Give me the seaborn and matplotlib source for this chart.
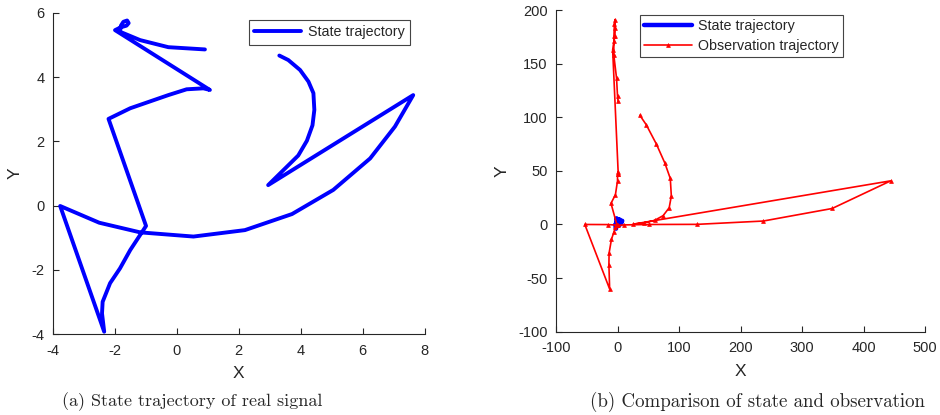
import matplotlib
matplotlib.use("Agg")
import matplotlib.pyplot as plt
import seaborn as sns
import pandas as pd

# State trajectory (x, y), in sample order
state_x = [0.91, -0.27, -1.18, -1.83, -1.80, -1.72, -1.60, -1.55, -1.62,
           -1.80, -1.99,
           1.07, 0.86, 0.32, -0.27, -1.50, -2.20,
           -0.99, -1.18, -1.50, -1.83, -2.15, -2.39, -2.41, -2.34,
           -3.76, -2.50, -1.18, 0.54, 2.20, 3.72, 5.05, 6.24, 7.04, 7.63,
           2.95, 3.52, 3.92, 4.20, 4.38, 4.44, 4.41, 4.25, 3.98, 3.60, 3.31]
state_y = [4.86, 4.93, 5.15, 5.41, 5.60, 5.72, 5.76, 5.68, 5.60,
           5.55, 5.46,
           3.60, 3.65, 3.62, 3.44, 3.03, 2.70,
           -0.63, -0.91, -1.38, -1.95, -2.41, -2.99, -3.35, -3.92,
           -0.01, -0.53, -0.83, -0.96, -0.76, -0.26, 0.49, 1.47, 2.46, 3.44,
           0.64, 1.18, 1.56, 2.02, 2.50, 2.98, 3.50, 3.86, 4.22, 4.53, 4.67]

# Observation trajectory (x, y), same samples
obs_x = [0.9, 0.0, -1.6, -6.1, -5.8, -5.1, -4.1, -3.7, -4.3,
         -5.8, -7.9,
         1.2, 0.6, 0.0, 0.0, -3.4, -10.6,
         -1.0, -1.6, -3.4, -6.1, -9.9, -13.7, -14.0, -12.8,
         -53.2, -15.6, -1.6, 0.2, 10.6, 51.5, 128.8, 236.9, 348.9, 444.2,
         25.7, 43.6, 60.2, 74.1, 84.0, 87.5, 85.8, 76.8, 63.0, 46.7, 36.3]
obs_y = [114.8, 119.8, 136.6, 158.3, 175.6, 187.2, 191.1, 183.2, 175.6,
         171.0, 162.8,
         46.7, 48.6, 47.4, 40.7, 27.8, 19.7,
         -0.3, -0.8, -2.6, -7.4, -14.0, -26.7, -37.6, -60.2,
         0.0, -0.1, -0.6, -0.9, -0.4, 0.0, 0.1, 3.2, 14.9, 40.7,
         0.3, 1.6, 3.8, 8.2, 15.6, 26.5, 42.9, 57.5, 75.2, 93.0, 101.8]

left_xticks = [-4, -2, 0, 2, 4, 6, 8]
left_yticks = [-4, -2, 0, 2, 4, 6]
right_xticks = [-100, 0, 100, 200, 300, 400, 500]
right_yticks = [-100, -50, 0, 50, 100, 150, 200]

captions = ["(a) State trajectory of real signal",
            "(b) Comparison of state and observation"]

sns.set_style("ticks")
plt.rcParams["font.family"] = ["Liberation Sans", "DejaVu Sans"]
plt.rcParams["axes.unicode_minus"] = False

state = pd.DataFrame({"x": state_x, "y": state_y})
obs = pd.DataFrame({"x": obs_x, "y": obs_y})

fig = plt.figure(figsize=(9.4, 4.15), dpi=100)
ax1 = fig.add_axes([0.0561, 0.1945, 0.3957, 0.7747])
ax2 = fig.add_axes([0.5915, 0.2007, 0.3926, 0.7752])

axis_grey = "#262626"

# Left panel: the state trajectory alone
sns.lineplot(data=state, x="x", y="y", sort=False, estimator=None,
             color="#0000ff", lw=2.8, ax=ax1, label="State trajectory")
ax1.set_xlim(-4, 8)
ax1.set_ylim(-4, 6)
ax1.set_xticks(left_xticks)
ax1.set_yticks(left_yticks)

# Right panel: state vs observation
sns.lineplot(data=state, x="x", y="y", sort=False, estimator=None,
             color="#0000ff", lw=3.2, ax=ax2, label="State trajectory")
sns.lineplot(data=obs, x="x", y="y", sort=False, estimator=None,
             color="#ff0000", lw=1.2, marker="^", markersize=2.8,
             markeredgecolor="#ff0000", markerfacecolor="#ff0000",
             markeredgewidth=0.5, ax=ax2, label="Observation trajectory")
ax2.set_xlim(-100, 500)
ax2.set_ylim(-100, 200)
ax2.set_xticks(right_xticks)
ax2.set_yticks(right_yticks)

for ax in (ax1, ax2):
    for side in ("top", "right"):
        ax.spines[side].set_visible(False)
    for side in ("left", "bottom"):
        ax.spines[side].set_color(axis_grey)
        ax.spines[side].set_linewidth(0.8)
    ax.tick_params(direction="in", length=4, width=0.8, colors=axis_grey,
                   labelsize=10.5)
    ax.tick_params(axis="x", pad=7)
    ax.tick_params(axis="y", pad=6)
    ax.set_xlabel("X", fontsize=12.5, color=axis_grey, labelpad=6)
    ax.set_ylabel("Y", fontsize=12.5, color=axis_grey, labelpad=6)

leg1 = ax1.legend(loc="upper left", bbox_to_anchor=(0.527, 0.978),
                  fontsize=10.3, frameon=True, fancybox=False,
                  handlelength=3.3, borderpad=0.38, handletextpad=0.45,
                  borderaxespad=0)
leg2 = ax2.legend(loc="upper left", bbox_to_anchor=(0.228, 0.985),
                  fontsize=10.3, frameon=True, fancybox=False,
                  handlelength=3.3, borderpad=0.3, labelspacing=0.4,
                  handletextpad=0.45, borderaxespad=0)
for leg in (leg1, leg2):
    fr = leg.get_frame()
    fr.set_edgecolor("#444444")
    fr.set_linewidth(0.8)
    fr.set_alpha(1)

fig.text(192 / 940, 1 - 402 / 415, captions[0], family="cmr10",
         fontsize=13, ha="center", va="center")
fig.text(757 / 940, 1 - 402 / 415, captions[1], family="cmr10",
         fontsize=13.6, ha="center", va="center")

fig.savefig("out.png", dpi=100)
